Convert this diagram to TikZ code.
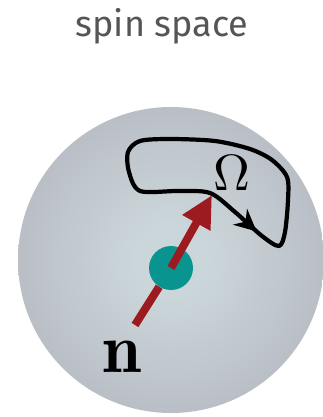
\documentclass[tikz,border=0pt]{standalone}
\usepackage{fontspec}
\setsansfont{Fira Sans}
\usetikzlibrary{arrows.meta, decorations.markings}
\definecolor{sphereIn}{RGB}{203,214,218}
\definecolor{sphereOut}{RGB}{163,160,172}
\definecolor{myTeal}{RGB}{10,148,144}
\definecolor{myRed}{RGB}{155,27,32}
\definecolor{titleGray}{RGB}{85,85,85}
\pgfdeclareradialshading{sphereShade}{\pgfpoint{0bp}{0bp}}{color(0bp)=(sphereIn); color(6bp)=(sphereIn); color(50bp)=(sphereOut)}
\tikzset{
  spinArrow/.style={myRed, line width=8pt},
  loopLine/.style={black, line width=4.2pt, line join=round},
}

\begin{document}
\begin{tikzpicture}[x=1pt, y=-1pt]
\useasboundingbox (0,0) rectangle (323,417);
% Sphere
\node[circle, inner sep=0pt, minimum size=306pt, shading=sphereShade] (sphere) at (171,260) {};
% Title
\node[anchor=base, text=titleGray, font=\sffamily\fontsize{36}{40}\selectfont] (title) at (162,37) {spin space};
% Closed loop on the sphere
\draw[loopLine, postaction={decorate}, decoration={markings, mark=at position 0.065 with {\arrow{Stealth[length=22pt, width=21pt]}}}]
  plot[smooth cycle, tension=0.5] coordinates {(210,193) (235,212) (262,236) (279,246) (285,232) (288,200) (287,177) (272,160) (250,149) (215,141) (170,139) (140,141) (128,152) (129,172) (140,191) (178,191)};
\node[anchor=base] (omega) at (232,190) {\scalebox{5.1}{$\Omega$}};
% Spin vector
\coordinate (tail) at (135,325);
\coordinate (tip) at (212,195);
\node[circle, inner sep=0pt, minimum size=44pt, fill=myTeal] (spin) at (171,268) {};
\draw[spinArrow] (tail) -- (spin);
\draw[spinArrow, -{Triangle[length=32pt, width=30pt]}] (spin.center) -- (tip);
\node[anchor=base] (nlabel) at (122,372) {\scalebox{7}{$\mathbf{n}$}};
\end{tikzpicture}
\end{document}
